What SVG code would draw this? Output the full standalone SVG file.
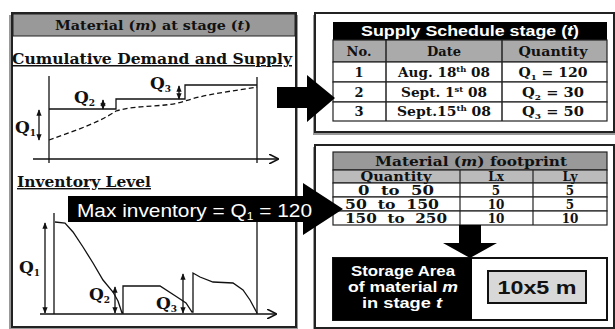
<svg xmlns="http://www.w3.org/2000/svg" width="615" height="329" viewBox="0 0 615 329">
<defs>
<marker id="ah" viewBox="0 0 10 10" refX="9" refY="5" markerWidth="5" markerHeight="5" orient="auto-start-reverse"><path d="M0,1 L10,5 L0,9 z" fill="#111"/></marker>
<marker id="ax" viewBox="0 0 12 12" refX="11" refY="6" markerWidth="10" markerHeight="10" markerUnits="userSpaceOnUse" orient="auto"><path d="M0,0 L12,6 L0,12" fill="none" stroke="#111" stroke-width="2"/></marker>
</defs>
<style>
.panel{fill:#fff;stroke:#222;stroke-width:2}
.shadow{fill:#999}
.ser{font-family:"DejaVu Serif","Liberation Serif",serif;font-weight:bold;fill:#111}
.sans{font-family:"Liberation Sans","Open Sans",sans-serif;font-weight:bold}
.ln{stroke:#111;stroke-width:1.3;fill:none}
.cell{fill:#fff;stroke:#222;stroke-width:1.2}
.arr{fill:#000}
</style>
<rect width="615" height="329" fill="#fff"/>

<g id="left-panel">
<rect class="shadow" x="9" y="15" width="289" height="314"/>
<rect class="panel" x="12" y="13" width="284" height="314"/>
<rect x="13" y="14" width="282" height="22" fill="#999" stroke="#222" stroke-width="1"/>
<text class="ser" x="153" y="30" text-anchor="middle" font-size="13" textLength="196" lengthAdjust="spacingAndGlyphs">Material (<tspan font-style="italic">m</tspan>) at stage (<tspan font-style="italic">t</tspan>)</text>
<text class="ser" x="152" y="64" text-anchor="middle" font-size="15" textLength="280" lengthAdjust="spacingAndGlyphs" text-decoration="underline">Cumulative Demand and Supply</text>
</g>

<g id="chart-supply">
<line class="ln" x1="49" y1="76" x2="49" y2="163"/>
<line class="ln" x1="257" y1="77" x2="257" y2="163"/>
<line class="ln" x1="33" y1="159" x2="278" y2="159" marker-end="url(#ax)"/>
<polyline class="ln" points="49,109 116,109 116,99 185,99 185,85 257,85"/>
<path class="ln" stroke-dasharray="5,3" stroke-width="1.6" d="M49,140 C70,132 95,125 116,111 C140,104 165,108 185,101 C210,93 235,91 257,87"/>
<line class="ln" stroke-width="1" x1="39" y1="110" x2="39" y2="140" marker-start="url(#ah)" marker-end="url(#ah)"/>
<line class="ln" stroke-width="1" x1="103" y1="100" x2="103" y2="109" marker-start="url(#ah)" marker-end="url(#ah)"/>
<line class="ln" stroke-width="1" x1="179" y1="86" x2="179" y2="99" marker-start="url(#ah)" marker-end="url(#ah)"/>
<text class="ser" x="15" y="133" font-size="17">Q<tspan font-size="9" dy="3">1</tspan></text>
<text class="ser" x="74" y="103" font-size="17">Q<tspan font-size="9" dy="3">2</tspan></text>
<text class="ser" x="150" y="89" font-size="17">Q<tspan font-size="9" dy="3">3</tspan></text>
</g>

<g id="chart-inventory">
<text class="ser" x="17" y="187" font-size="14" textLength="134" lengthAdjust="spacingAndGlyphs" text-decoration="underline">Inventory Level</text>
<line class="ln" x1="54" y1="213" x2="54" y2="314"/>
<line class="ln" x1="257" y1="222" x2="257" y2="314"/>
<line class="ln" x1="40" y1="314" x2="276" y2="314" marker-end="url(#ax)"/>
<polyline class="ln" stroke-width="1.5" points="55,222 65,223 73,232 83,247 93,263 103,280 113,292 118,301 122,313 123,313 123,286 160,286 177,297 186,303 192,312 193,312 193,273 200,277 213,282 233,283 243,290 250,300 257,313"/>
<line class="ln" stroke-width="1" x1="45" y1="223" x2="45" y2="313" marker-start="url(#ah)" marker-end="url(#ah)"/>
<line class="ln" stroke-width="1" x1="115" y1="287" x2="115" y2="313" marker-start="url(#ah)" marker-end="url(#ah)"/>
<line class="ln" stroke-width="1" x1="183" y1="274" x2="183" y2="313" marker-start="url(#ah)" marker-end="url(#ah)"/>
<text class="ser" x="19" y="273" font-size="17">Q<tspan font-size="9" dy="3">1</tspan></text>
<text class="ser" x="89" y="300" font-size="17">Q<tspan font-size="9" dy="3">2</tspan></text>
<text class="ser" x="156" y="309" font-size="17">Q<tspan font-size="9" dy="3">3</tspan></text>
</g>

<g id="supply-panel">
<rect class="shadow" x="313" y="15" width="302" height="120"/>
<rect class="panel" x="315" y="13" width="299" height="119"/>
<rect x="333" y="22" width="274" height="18" fill="#000"/>
<text class="sans" x="470" y="36" text-anchor="middle" font-size="14" fill="#fff" textLength="218" lengthAdjust="spacingAndGlyphs">Supply Schedule stage (<tspan font-style="italic">t</tspan>)</text>
<rect x="333" y="40" width="274" height="22" fill="#aaa" stroke="#222" stroke-width="1.2"/>
<rect class="cell" x="333" y="62" width="274" height="20"/>
<rect class="cell" x="333" y="82" width="274" height="20"/>
<rect class="cell" x="333" y="102" width="274" height="19"/>
<line x1="386" y1="40" x2="386" y2="121" stroke="#222" stroke-width="1.5"/>
<line x1="502" y1="40" x2="502" y2="121" stroke="#222" stroke-width="1.5"/>
<g class="ser" font-size="13" text-anchor="middle">
<text x="359" y="56">No.</text>
<text x="444" y="56">Date</text>
<text x="553" y="56" textLength="69" lengthAdjust="spacingAndGlyphs">Quantity</text>
<text x="359" y="77">1</text>
<text x="444" y="77" textLength="92" lengthAdjust="spacingAndGlyphs">Aug. 18<tspan font-size="8" dy="-5">th</tspan><tspan dy="5"> 08</tspan></text>
<text x="553" y="77" textLength="69" lengthAdjust="spacingAndGlyphs">Q<tspan font-size="8" dy="3">1</tspan><tspan dy="-3"> = 120</tspan></text>
<text x="359" y="97">2</text>
<text x="444" y="97" textLength="86" lengthAdjust="spacingAndGlyphs">Sept. 1<tspan font-size="8" dy="-5">st</tspan><tspan dy="5"> 08</tspan></text>
<text x="553" y="97" textLength="62" lengthAdjust="spacingAndGlyphs">Q<tspan font-size="8" dy="3">2</tspan><tspan dy="-3"> = 30</tspan></text>
<text x="359" y="116">3</text>
<text x="444" y="116" textLength="94" lengthAdjust="spacingAndGlyphs">Sept.15<tspan font-size="8" dy="-5">th</tspan><tspan dy="5"> 08</tspan></text>
<text x="553" y="116" textLength="62" lengthAdjust="spacingAndGlyphs">Q<tspan font-size="8" dy="3">3</tspan><tspan dy="-3"> = 50</tspan></text>
</g>
</g>

<g id="footprint-panel">
<rect class="shadow" x="313" y="147" width="302" height="182"/>
<rect class="panel" x="315" y="145" width="299" height="183"/>
<rect x="333" y="152" width="274" height="18" fill="#999" stroke="#222" stroke-width="1.2"/>
<text class="ser" x="471" y="166" text-anchor="middle" font-size="13" textLength="192" lengthAdjust="spacingAndGlyphs">Material (<tspan font-style="italic">m</tspan>) footprint</text>
<rect x="333" y="170" width="274" height="13" fill="#bbb" stroke="#222" stroke-width="1.2"/>
<rect class="cell" x="333" y="183" width="274" height="14"/>
<rect class="cell" x="333" y="197" width="274" height="14"/>
<rect class="cell" x="333" y="211" width="274" height="14"/>
<line x1="460" y1="170" x2="460" y2="225" stroke="#222" stroke-width="1.2"/>
<line x1="533" y1="170" x2="533" y2="225" stroke="#222" stroke-width="1.2"/>
<g class="ser" font-size="12" text-anchor="middle">
<text x="396" y="181" textLength="71" lengthAdjust="spacingAndGlyphs">Quantity</text>
<text x="496" y="181">Lx</text>
<text x="570" y="181">Ly</text>
<text x="396" y="194.5" xml:space="preserve" textLength="76" lengthAdjust="spacingAndGlyphs">0  to  50</text>
<text x="496" y="194.5">5</text>
<text x="570" y="194.5">5</text>
<text x="392" y="208.5" xml:space="preserve" textLength="94" lengthAdjust="spacingAndGlyphs">50  to  150</text>
<text x="496" y="208.5">10</text>
<text x="570" y="208.5">5</text>
<text x="396" y="222.5" xml:space="preserve" textLength="102" lengthAdjust="spacingAndGlyphs">150  to  250</text>
<text x="496" y="222.5">10</text>
<text x="570" y="222.5">10</text>
</g>
</g>

<g id="storage-area">
<rect x="333" y="258" width="274" height="62" fill="#fff" stroke="#111" stroke-width="2"/>
<rect x="333" y="258" width="139" height="62" fill="#000"/>
<g class="sans" font-size="14" fill="#fff" text-anchor="middle">
<text x="403" y="276" textLength="104" lengthAdjust="spacingAndGlyphs">Storage Area</text>
<text x="403" y="292" textLength="110" lengthAdjust="spacingAndGlyphs">of material <tspan font-style="italic">m</tspan></text>
<text x="402" y="308" textLength="80" lengthAdjust="spacingAndGlyphs">in stage <tspan font-style="italic">t</tspan></text>
</g>
<rect x="488" y="271" width="98" height="32" fill="#d8d8d8" stroke="#111" stroke-width="2"/>
<text class="sans" x="537" y="294" text-anchor="middle" font-size="18" fill="#111" textLength="79" lengthAdjust="spacingAndGlyphs">10x5 m</text>
</g>

<g id="connectors">
<polygon class="arr" points="277,87 307,87 307,75 335,98 307,122 307,108 277,108"/>
<polygon class="arr" points="68,196 303,196 303,183 343,209 303,235 303,222 68,222"/>
<text x="77" y="217" font-family="Liberation Sans, Open Sans, sans-serif" font-size="19" fill="#fff" textLength="235" lengthAdjust="spacingAndGlyphs">Max inventory = Q<tspan font-size="11" dy="3">1</tspan><tspan dy="-3"> = 120</tspan></text>
<polygon class="arr" points="459,225 481,225 481,243 497,243 470,258 443,243 459,243"/>
</g>
</svg>
